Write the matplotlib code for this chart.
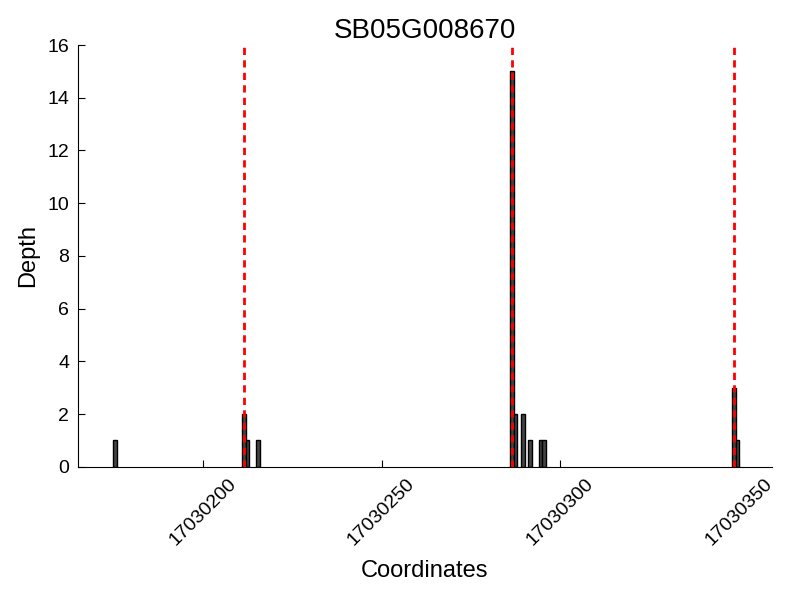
import matplotlib
matplotlib.use("Agg")
import matplotlib.pyplot as plt

plt.rcParams['font.family'] = ['Liberation Sans', 'DejaVu Sans']

gene = "SB05G008670"
positions = [17030175, 17030211, 17030212, 17030215,
             17030286, 17030287, 17030289, 17030291, 17030294, 17030295,
             17030348, 17030349]
depths = [1, 2, 1, 1,
          15, 2, 2, 1, 1, 1,
          3, 1]
boundaries = [17030211.5, 17030286.5, 17030348.5]
x_ticks = [17030200, 17030250, 17030300, 17030350]
y_ticks = [0, 2, 4, 6, 8, 10, 12, 14, 16]

fig = plt.figure(figsize=(8, 6), dpi=100)
ax = fig.add_axes([0.097, 0.222, 0.868, 0.703])

ax.bar(positions, depths, width=1, align='edge', color='#444444',
       edgecolor='black', linewidth=1, zorder=2)
for b in boundaries:
    ax.axvline(b, color='red', lw=2, linestyle=(0, (2.6, 1.9)), zorder=3)

ax.set_xlim(17030165, 17030359.2)
ax.set_ylim(0, 16)
ax.set_xticks(x_ticks)
ax.set_xticklabels([str(t) for t in x_ticks], rotation=45, fontsize=14)
ax.set_yticks(y_ticks)
ax.set_yticklabels([str(t) for t in y_ticks], fontsize=14)
ax.tick_params(direction='in', length=5, top=False, right=False, pad=6)
ax.spines['top'].set_visible(False)
ax.spines['right'].set_visible(False)

ax.set_title(gene, fontsize=20, pad=5)
ax.set_xlabel("Coordinates", fontsize=17, labelpad=8)
ax.set_ylabel("Depth", fontsize=17, labelpad=6)

fig.savefig("out.png", dpi=100)
